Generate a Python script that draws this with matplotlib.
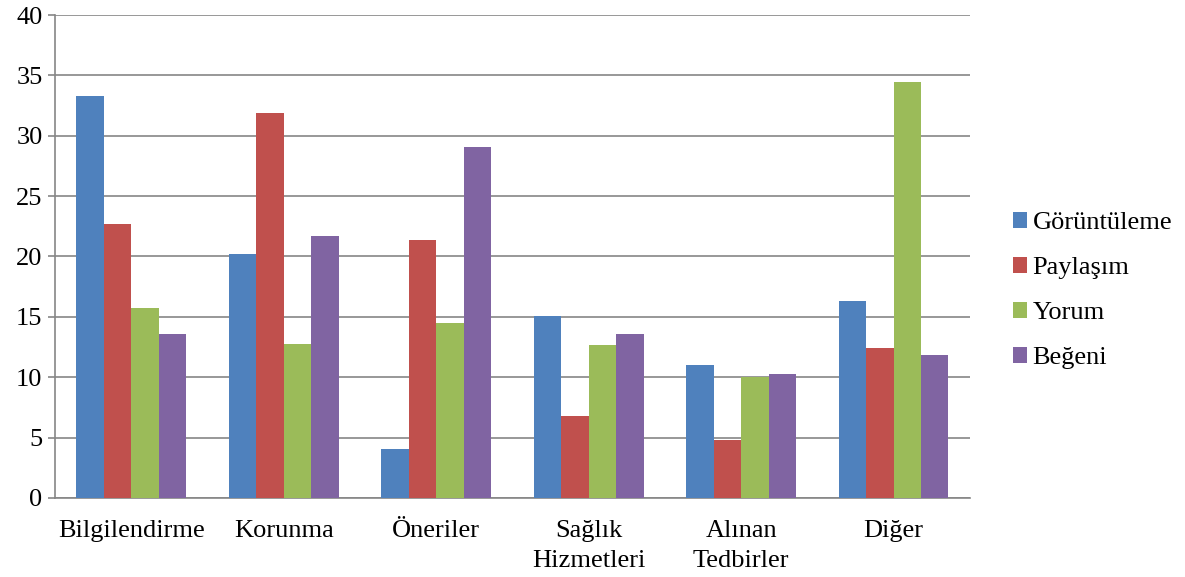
import matplotlib.pyplot as plt
import numpy as np

categories = ["Bilgilendirme", "Korunma", "Öneriler", "Sağlık\nHizmetleri", "Alınan\nTedbirler", "Diğer"]
series_names = ["Görüntüleme", "Paylaşım", "Yorum", "Beğeni"]
goruntuleme = [33.3, 20.2, 4.05, 15.05, 11.0, 16.3]
paylasim = [22.7, 31.9, 21.4, 6.8, 4.8, 12.4]
yorum = [15.75, 12.75, 14.5, 12.65, 10.0, 34.45]
begeni = [13.6, 21.7, 29.1, 13.55, 10.25, 11.8]
colors = ["#4F81BD", "#C0504D", "#9BBB59", "#8064A2"]

plt.rcParams['font.family'] = ['Liberation Serif', 'DejaVu Serif']
fs = 19

fig = plt.figure(figsize=(11.85, 5.77), dpi=100)
ax = fig.add_axes([0.0464, 0.137, 0.772, 0.837])

x = np.arange(len(categories))
w = 0.18
for i, (vals, name) in enumerate(zip([goruntuleme, paylasim, yorum, begeni], series_names)):
    ax.bar(x + (i - 1.5) * w, vals, w, color=colors[i], label=name, zorder=3)

ax.set_xlim(-0.5, len(categories) - 0.5)
ax.set_ylim(0, 40)
ax.set_yticks(range(0, 41, 5))
ax.set_xticks(x)
ax.set_xticklabels(categories, fontsize=fs, linespacing=1.45)
ax.tick_params(axis='y', labelsize=fs, length=5, color='#868686', width=1.2, pad=4)
ax.tick_params(axis='x', length=0, pad=16)
ax.grid(axis='y', color='#868686', linewidth=1.2, zorder=0)
for s in ['top', 'right']:
    ax.spines[s].set_visible(False)
for s in ['left', 'bottom']:
    ax.spines[s].set_color('#868686')
    ax.spines[s].set_linewidth(1.2)

ax.legend(loc='center left', bbox_to_anchor=(1.047, 0.43), frameon=False, fontsize=fs,
          handlelength=0.55, handleheight=0.55, handletextpad=0.2, labelspacing=0.86,
          borderpad=0, borderaxespad=0)

plt.savefig("out.png", dpi=100)
